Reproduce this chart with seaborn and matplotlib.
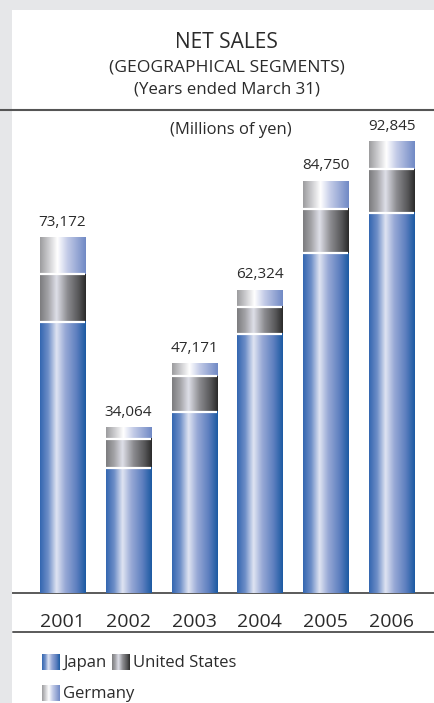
import numpy as np
import pandas as pd
import matplotlib
matplotlib.use("Agg")
import matplotlib.pyplot as plt
import seaborn as sns
from matplotlib.colors import LinearSegmentedColormap
from matplotlib.lines import Line2D
from matplotlib.patches import Rectangle

# Net sales by geographical segment, millions of yen
years = ["2001", "2002", "2003", "2004", "2005", "2006"]
japan = [55840, 25700, 37340, 53250, 69900, 78250]
united_states = [9750, 6020, 7340, 5670, 9170, 8980]
germany = [7582, 2344, 2491, 3404, 5680, 5615]
totals = [73172, 34064, 47171, 62324, 84750, 92845]

segments = ["Japan", "United States", "Germany"]

df = pd.DataFrame({"year": years, "Japan": japan,
                   "United States": united_states, "Germany": germany,
                   "total": totals})
df["us_top"] = df["Japan"] + df["United States"]

sns.set_theme(style="white")
plt.rcParams["font.family"] = ["Open Sans", "DejaVu Sans"]
TEXT = "#2b2b2b"

# horizontal metallic gradients for each segment
cmaps = {
    "Japan": LinearSegmentedColormap.from_list("jp", [
        (0.0, "#3366b0"), (0.18, "#6f8fc8"), (0.36, "#dfe4f2"),
        (0.55, "#98a9d6"), (0.8, "#5d7fbf"), (1.0, "#1b5aa2")]),
    "United States": LinearSegmentedColormap.from_list("us", [
        (0.0, "#7c7c7e"), (0.18, "#a4a4a8"), (0.36, "#dedfe8"),
        (0.6, "#8c8c90"), (0.85, "#555557"), (1.0, "#2a2a2a")]),
    "Germany": LinearSegmentedColormap.from_list("de", [
        (0.0, "#9c9c9e"), (0.2, "#cfcfd2"), (0.38, "#ffffff"),
        (0.6, "#c3cbe7"), (1.0, "#7089c5")]),
}
grad = np.linspace(0, 1, 256).reshape(1, -1)

W, H = 435, 703
fig = plt.figure(figsize=(W / 100, H / 100), dpi=100)
fig.patch.set_facecolor("#e6e7e9")
fig.patches.append(Rectangle((12 / W, 0), 1 - 12 / W, (H - 10) / H,
                             transform=fig.transFigure, facecolor="white",
                             edgecolor="none", zorder=-5))

def fx(px):
    return px / W

def fy(py):
    return 1 - py / H

base_px, top_px = 593.3, 110
ax = fig.add_axes([fx(13), fy(base_px), 1 - fx(13), (base_px - top_px) / H])
ax.set_facecolor("none")

bar_w = 0.684
layers = [("Germany", "total", "us_top"),
          ("United States", "us_top", "Japan"),
          ("Japan", "Japan", None)]
for z, (name, top_col, bot_col) in enumerate(layers):
    n0 = len(ax.patches)
    sns.barplot(data=df, x="year", y=top_col, ax=ax, width=bar_w,
                color="white", saturation=1, zorder=2 + 2 * z)
    bottoms = df[bot_col].values if bot_col else np.zeros(len(df))
    for p, b in zip(ax.patches[n0:], bottoms):
        p.set_facecolor("none")
        p.set_edgecolor("none")
        x0, w, h = p.get_x(), p.get_width(), p.get_height()
        ax.imshow(grad, extent=[x0, x0 + w, b, h], aspect="auto",
                  cmap=cmaps[name], zorder=2 + 2 * z, interpolation="bilinear")
        if name != "Germany":
            ax.hlines(h, x0, x0 + w, color="white", lw=1.6, zorder=9)

# total labels above each bar
for i, t in enumerate(totals):
    ax.annotate(f"{t:,}", (i, t), xytext=(0, 8.5), textcoords="offset points",
                ha="center", va="baseline", fontsize=11, color=TEXT)

ax.set_xlim(-0.752, 5.661)
ax.set_ylim(0, (base_px - top_px) / 0.004864)
ax.set_xlabel("")
ax.set_ylabel("")
ax.set_yticks([])
ax.tick_params(axis="x", length=0, pad=14, labelsize=14, labelcolor=TEXT)
for s in ["top", "right", "left"]:
    ax.spines[s].set_visible(False)
ax.spines["bottom"].set_color("#5a5a5a")
ax.spines["bottom"].set_linewidth(1.4)

# titles and rules
fig.text(fx(226.5), fy(42), "NET SALES", ha="center", va="center",
         fontsize=15, color=TEXT)
fig.text(fx(226.5), fy(68), "(GEOGRAPHICAL SEGMENTS)", ha="center",
         va="center", fontsize=12.6, color=TEXT)
fig.text(fx(226.5), fy(90), "(Years ended March 31)", ha="center",
         va="center", fontsize=12.2, color=TEXT)
fig.text(fx(230.5), fy(130), "(Millions of yen)", ha="center", va="center",
         fontsize=12, color=TEXT)
fig.lines.append(Line2D([0, 1], [fy(110), fy(110)], transform=fig.transFigure,
                        color="#555555", lw=1.5))
fig.lines.append(Line2D([fx(13), 1], [fy(632), fy(632)],
                        transform=fig.transFigure, color="#5a5a5a", lw=1.4))

# legend swatches
legend_items = [("Japan", 42, 654), ("United States", 112, 654),
                ("Germany", 42, 685)]
for name, lx, ly in legend_items:
    sw = fig.add_axes([fx(lx), fy(ly + 16), 18 / W, 16 / H])
    sw.imshow(grad, aspect="auto", cmap=cmaps[name], interpolation="bilinear")
    sw.set_axis_off()
    fig.text(fx(lx + 21), fy(ly + 9), name, ha="left", va="center",
             fontsize=12, color=TEXT)

fig.savefig("out.png", dpi=100, facecolor=fig.get_facecolor())
